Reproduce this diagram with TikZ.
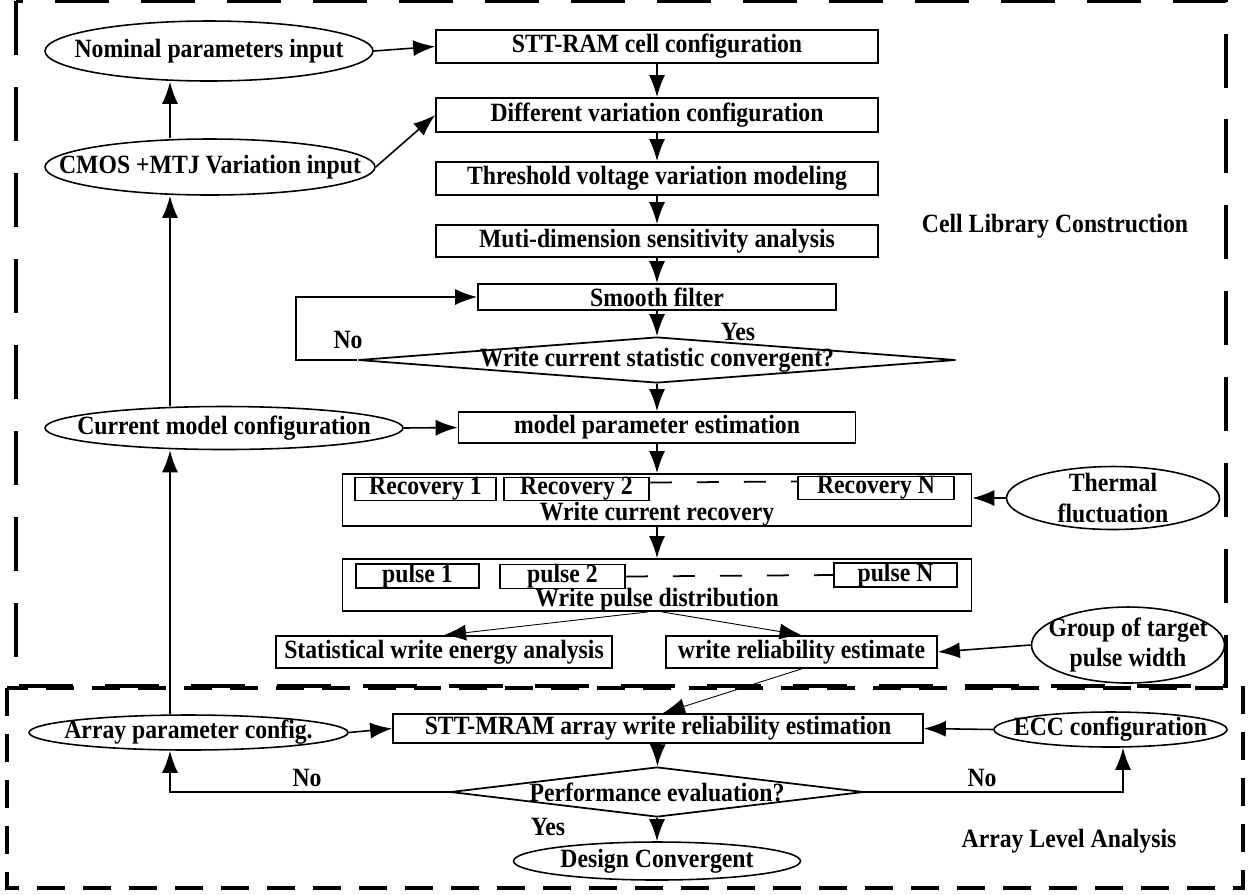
\documentclass[tikz,border=0pt]{standalone}
\usepackage{fontspec}
\setmainfont{Liberation Serif}[FakeStretch=0.9]
\usetikzlibrary{shapes.geometric,arrows.meta,calc}

\begin{document}
\begin{tikzpicture}[x=0.02cm, y=-0.02cm,
      every node/.style={font=\bfseries\fontsize{15}{17.5}\selectfont, inner sep=0pt},
      box/.style={draw, line width=1pt, rectangle},
      sub/.style={draw, line width=1pt, rectangle},
      oval/.style={draw, ellipse, line width=0.9pt},
      dec/.style={draw, diamond, line width=1pt},
      arr/.style={->, line width=0.9pt},
      slim/.style={->, line width=0.5pt},
      gapline/.style={line width=1pt, dash pattern=on 0.44cm off 0.5cm},
      >={Latex[length=4.4mm,width=3.2mm]},
    ]
  \useasboundingbox (0,0) rectangle (1250,894);

  % the two dashed frames
  \draw[line width=2.2pt, dash pattern=on 1.08cm off 0.64cm] (16,1) rectangle (1226,686);
  \draw[line width=2pt, dash pattern=on 0.56cm off 0.36cm] (7,688) rectangle (1243,888);

  \coordinate (lx) at (170,0);
  \coordinate (lp) at (296,0);
  \coordinate (rx) at (1123,0);

  % cell library construction
  \node[oval, minimum width=6.56cm, minimum height=1.2cm, label=center:{Nominal parameters input}] (nom) at (209,51) {};
  \node[oval, minimum width=6.6cm, minimum height=1.12cm, label=center:{CMOS +MTJ Variation input}] (cmos) at (210,167) {};
  \node[oval, minimum width=7.16cm, minimum height=0.86cm, label=center:{Current model configuration}] (cm) at (224,428) {};

  \node[box, minimum width=8.84cm, minimum height=0.66cm] (cell) at (657,46.5) {STT-RAM cell configuration};
  \node[box, minimum width=8.84cm, minimum height=0.68cm] (diff) at (657,115) {Different variation configuration};
  \node[box, minimum width=8.84cm, minimum height=0.66cm] (thr) at (657,178.5) {Threshold voltage variation modeling};
  \node[box, minimum width=8.84cm, minimum height=0.64cm] (muti) at (657,241) {Muti-dimension sensitivity analysis};
  \node[box, minimum width=7.16cm, minimum height=0.52cm] (sf) at (657,297) {Smooth filter};
  \node[dec, minimum width=11.96cm, minimum height=0.92cm, label=center:{Write current statistic convergent?}] (wcs) at (657,360) {};
  \node[box, minimum width=7.94cm, minimum height=0.62cm] (mpe) at (657,427.5) {model parameter estimation};

  \node[box, minimum width=12.58cm, minimum height=1.04cm, label={[yshift=-0.28cm]center:Write current recovery}] (wcr) at (657,500) {};
  \node[sub, minimum width=2.82cm, minimum height=0.4cm] (rec1) at (425.5,489) {Recovery 1};
  \node[sub, minimum width=2.9cm, minimum height=0.4cm] (rec2) at (576.5,489) {Recovery 2};
  \node[sub, minimum width=3.12cm, minimum height=0.4cm] (recN) at (876,488) {Recovery N};

  \node[box, minimum width=12.58cm, minimum height=1.04cm, label={[yshift=-0.3cm]center:Write pulse distribution}] (wpd) at (657,585) {};
  \node[sub, minimum width=2.46cm, minimum height=0.44cm] (pul1) at (417.5,576) {pulse 1};
  \node[sub, minimum width=2.5cm, minimum height=0.42cm] (pul2) at (562.5,576.5) {pulse 2};
  \node[sub, minimum width=2.46cm, minimum height=0.44cm] (pulN) at (895.5,575) {pulse N};

  \node[box, minimum width=6.72cm, minimum height=0.64cm] (swe) at (444,652) {Statistical write energy analysis};
  \node[box, minimum width=5.42cm, minimum height=0.64cm] (wre) at (801.5,652) {write reliability estimate};

  \node[oval, minimum width=4.26cm, minimum height=1.26cm, label={[align=center]center:{Thermal\\fluctuation}}] (th) at (1113,498) {};
  \node[oval, minimum width=3.86cm, minimum height=1.52cm, label={[align=center]center:{Group of target\\pulse width}}] (gp) at (1128,645) {};

  \node (clc) at (1055,226) {Cell Library Construction};
  \node (no1) at (348,340) {No};
  \node (yes1) at (738,332) {Yes};

  % array level analysis
  \node[oval, minimum width=6.38cm, minimum height=0.7cm, label=center:{Array parameter config.}] (ap) at (188.5,732.5) {};
  \node[box, minimum width=10.6cm, minimum height=0.58cm] (arw) at (658,728.5) {STT-MRAM array write reliability estimation};
  \node[oval, minimum width=4.66cm, minimum height=0.7cm, label=center:{ECC configuration}] (ecc) at (1110.5,729.5) {};
  \node[dec, minimum width=8.26cm, minimum height=1cm, label=center:{Performance evaluation?}] (pe) at (657,792) {};
  \node[oval, minimum width=5.74cm, minimum height=0.76cm, label=center:{Design Convergent}] (dc) at (657,861) {};

  \node (ala) at (1069,841) {Array Level Analysis};
  \node (no2) at (307,778) {No};
  \node (no3) at (982,778) {No};
  \node (yes2) at (548,827) {Yes};

  \draw[arr] (nom.east) -- (cell.west);
  \draw[arr] (cmos.east) -- (diff.west);
  \draw[arr] (cell) -- (diff);
  \draw[arr] (diff) -- (thr);
  \draw[arr] (thr) -- (muti);
  \draw[arr] (muti) -- (sf);
  \draw[arr] (sf) -- (wcs);
  \draw[arr] (wcs.west) -- (wcs.west -| lp) |- (sf.west);
  \draw[arr] (wcs) -- (mpe);
  \draw[arr] (cm.east) -- (mpe.west);
  \draw[arr] (mpe) -- (wcr);
  \draw[arr] (wcr) -- (wpd);
  \draw[arr] (th.west) -- (wcr.east |- th.west);
  \draw[gapline] ([yshift=0.13cm]rec2.east) -- ([yshift=0.13cm]recN.west);
  \draw[gapline] (pul2.east) -- (pulN.west);
  \draw[slim] ([xshift=-0.18cm]wpd.south) -- (swe.north);
  \draw[slim] ([xshift=0.1cm]wpd.south) -- (wre.north);
  \draw[arr] (gp.west) -- (wre.east);
  \draw[slim] (wre.south) -- ([xshift=0.1cm]arw.north);

  \draw[arr] (ap.east) -- (arw.west);
  \draw[arr] (ecc.west) -- (arw.east);
  \draw[arr] (arw) -- (pe);
  \draw[arr] (pe) -- (dc);
  \draw[arr] (pe.west) -| (ap.south -| lx);
  \draw[arr] (pe.east) -| (ecc.south -| rx);
  \draw[arr] (ap.north -| lx) -- (cm.south -| lx);
  \draw[arr] (cm.north -| lx) -- (cmos.south -| lx);
  \draw[arr] (cmos.north -| lx) -- (nom.south -| lx);
\end{tikzpicture}
\end{document}
